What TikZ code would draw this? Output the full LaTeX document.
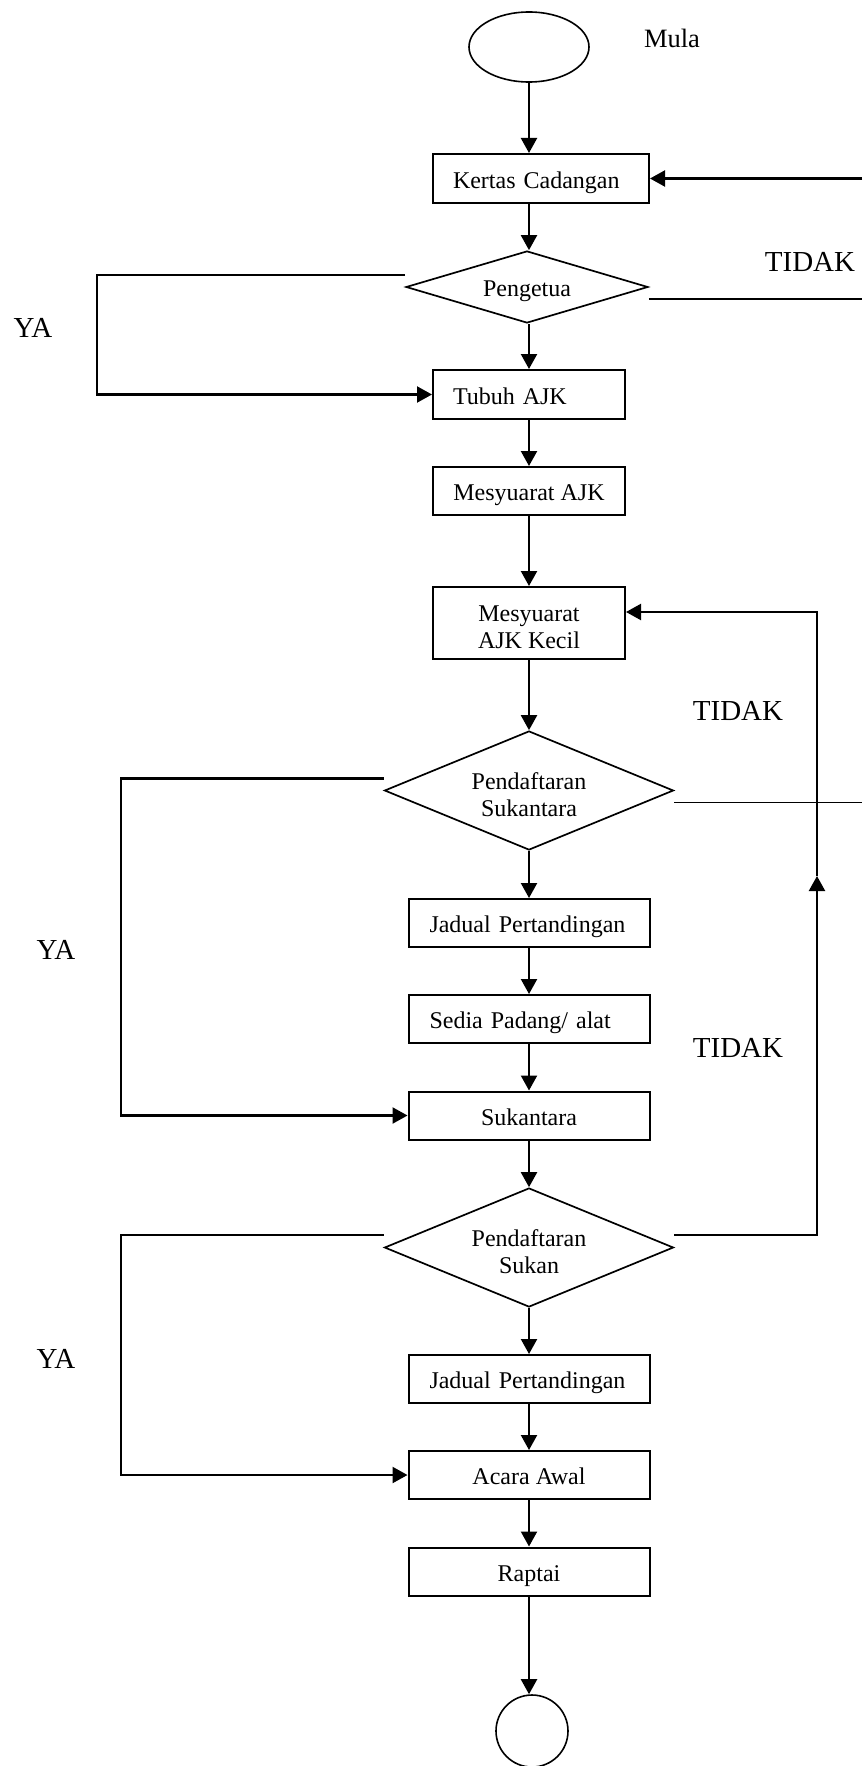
\documentclass[tikz,border=0pt]{standalone}
\usepackage{fontspec}
\setmainfont{Liberation Serif}
\usetikzlibrary{arrows.meta,shapes.geometric,calc}
\begin{document}
\begin{tikzpicture}[x=1pt,y=-1pt,
  boxfont/.style={font=\fontsize{24}{27}\selectfont},
  box/.style={draw,line width=2pt,inner sep=0pt,minimum width=241pt,minimum height=48pt,
    boxfont,align=center,text height=22pt,text depth=3pt},
  narrow/.style={box,minimum width=192pt},
  twoline/.style={label={[boxfont,align=center,inner sep=0pt,yshift=-4pt]center:#1}},
  decision/.style={draw,diamond,line width=1.7pt,inner sep=0pt,aspect=2.5,boxfont,align=center},
  terminal/.style={draw,ellipse,line width=1.6pt,inner sep=0pt},
  flow/.style={line width=2.2pt,-{Triangle[length=15pt,width=16pt]}},
  link/.style={line width=1.8pt},
  tag/.style={font=\fontsize{29}{32}\selectfont,inner sep=0pt},
]
\useasboundingbox (0,0) rectangle (862,1766);

% helper positions for the side rails
\coordinate (edgeR) at (862,0);
\coordinate (railA) at (97,0);
\coordinate (railB) at (121,0);
\coordinate (tip) at (817,876);

% flow steps
\node[terminal,minimum width=120pt,minimum height=70pt] (start) at (529,47) {};
\node[font=\fontsize{26.5}{30}\selectfont,inner sep=0pt] (mula) at (672,38) {Mula};
\node[box,minimum width=216pt,minimum height=49pt,text width=176pt,align=left] (kertas) at (541,178.5) {Kertas Cadangan};
\node[decision,minimum width=242pt,minimum height=72pt,text height=22pt,text depth=3pt] (peng) at (527,287) {Pengetua};
\node[narrow,minimum height=49pt,text width=152pt,align=left] (tubuh) at (529,394.5) {Tubuh AJK};
\node[narrow] (mesy) at (529,491) {Mesyuarat AJK};
\node[narrow,minimum height=72pt,twoline={Mesyuarat\\AJK Kecil}] (kecil) at (529,623) {};
\node[decision,minimum width=289pt,minimum height=119pt,twoline={Pendaftaran\\Sukantara}] (daftarA) at (529,790.5) {};
\node[box,text width=199pt,align=left] (jadualA) at (529,923) {Jadual Pertandingan};
\node[box,text width=199pt,align=left] (sedia) at (529,1019) {Sedia Padang/ alat};
\node[box] (sukantara) at (529,1115.5) {Sukantara};
\node[decision,minimum width=289pt,minimum height=119pt,twoline={Pendaftaran\\Sukan}] (daftarB) at (529,1247.5) {};
\node[box,text width=199pt,align=left] (jadualB) at (529,1379) {Jadual Pertandingan};
\node[box] (acara) at (529,1475) {Acara Awal};
\node[box] (raptai) at (529,1571.5) {Raptai};
\node[terminal,minimum width=72pt,minimum height=72pt] (finish) at (532,1731) {};

% branch labels
\node[tag] (tidakA) at (810,262) {TIDAK};
\node[tag] (yaA) at (33,328) {YA};
\node[tag] (tidakB) at (738,711) {TIDAK};
\node[tag] (yaB) at (56,950) {YA};
\node[tag] (tidakC) at (738,1048) {TIDAK};
\node[tag] (yaC) at (56,1359) {YA};

% main line
\draw[flow] (start.south) -- (start.south |- kertas.north);
\draw[flow] (kertas.south -| start.south) -- (start.south |- peng.north);
\draw[flow] (peng.south -| start.south) -- (start.south |- tubuh.north);
\draw[flow] (tubuh.south) -- (mesy.north);
\draw[flow] (mesy.south) -- (kecil.north);
\draw[flow] (kecil.south) -- (daftarA.north);
\draw[flow] (daftarA.south) -- (jadualA.north);
\draw[flow] (jadualA.south) -- (sedia.north);
\draw[flow] (sedia.south) -- (sukantara.north);
\draw[flow] (sukantara.south) -- (daftarB.north);
\draw[flow] (daftarB.south) -- (jadualB.north);
\draw[flow] (jadualB.south) -- (acara.north);
\draw[flow] (acara.south) -- (raptai.north);
\draw[flow] (raptai.south) -- (raptai.south |- finish.north);

% YA branches on the left
\coordinate (pL) at ($(peng.west)+(0,-12)$);
\draw[flow] (pL) -- (pL -| railA) |- (tubuh.west);
\coordinate (aL) at ($(daftarA.west)+(0,-12)$);
\draw[flow] (aL) -- (aL -| railB) |- (sukantara.west);
\coordinate (bL) at ($(daftarB.west)+(0,-12.5)$);
\draw[flow] (bL) -- (bL -| railB) |- (acara.west);

% TIDAK branches on the right
\draw[flow] (kertas.east -| edgeR) -- (kertas.east);
\coordinate (pR) at ($(peng.east)+(0,12)$);
\draw[link] (pR) -- (pR -| edgeR);
\coordinate (aR) at ($(daftarA.east)+(0,12)$);
\draw[link] (aR) -- (aR -| edgeR);
\coordinate (bR) at ($(daftarB.east)+(0,-12.5)$);
\coordinate (kR) at ($(kecil.east)+(0,-11)$);
\draw[flow] (bR) -| (tip);
\draw[flow] (tip) |- (kR);
\end{tikzpicture}
\end{document}
